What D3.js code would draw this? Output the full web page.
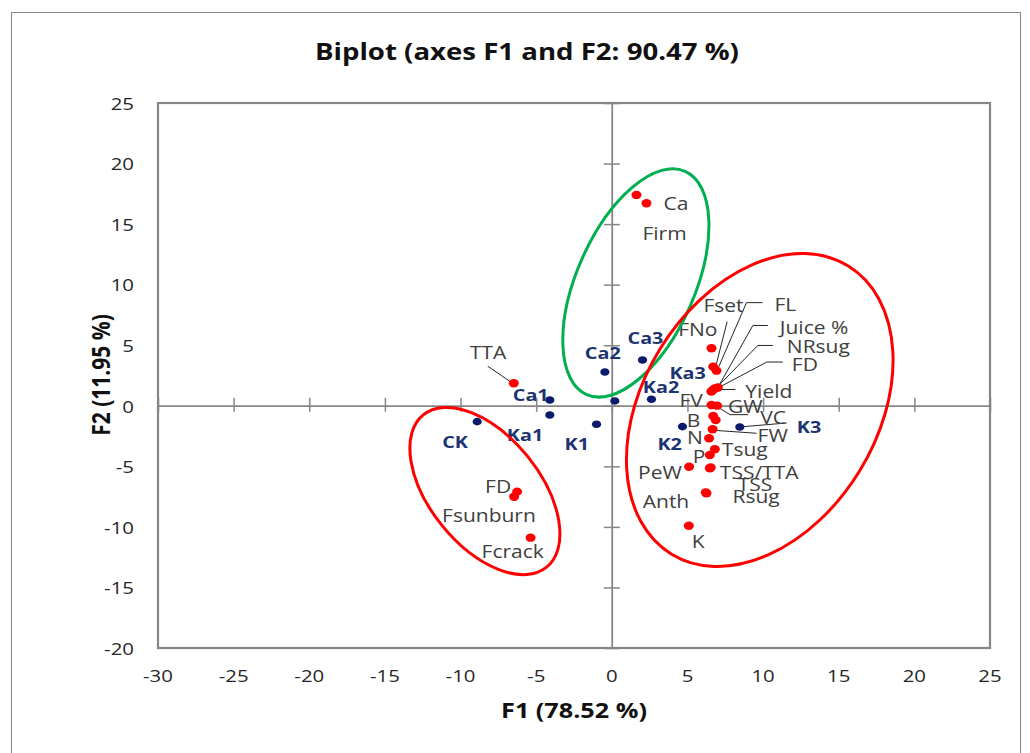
<!DOCTYPE html>
<html>
<head>
<meta charset="utf-8">
<title>Biplot</title>
<style>
  body { margin: 0; background: #fff; }
  text { font-family: "Open Sans", "Noto Sans", sans-serif; }
</style>
</head>
<body>
<svg width="1030" height="753"></svg>
<script src="https://cdnjs.cloudflare.com/ajax/libs/d3/7.8.5/d3.min.js"></script>
<script>

// variables (red) : F1 / F2 coordinates
varNames = ["Fset", "FNo", "FL", "Juice %", "NRsug", "FD", "Yield", "FV", "GW", "VC", "B", "FW", "N",
            "Tsug", "P", "PeW", "TSS/TTA", "TSS", "Rsug", "Anth", "K",
            "Ca", "Firm", "TTA", "FD", "Fsunburn", "Fcrack"]
varF1 = [6.59, 6.70, 6.92, 7.01, 6.81, 6.68, 6.58, 6.59, 6.96, 6.70, 6.87, 6.66, 6.43,
         6.81, 6.48, 5.11, 6.48, 6.54, 6.26, 6.21, 5.09,
         2.29, 1.63, -6.48, -6.26, -6.46, -5.37]
varF2 = [4.75, 3.23, 2.90, 1.51, 1.43, 1.30, 1.18, 0.07, 0.01, -0.84, -1.17, -1.94, -2.68,
         -3.59, -4.06, -5.03, -5.16, -5.09, -7.23, -7.16, -9.90,
         16.72, 17.41, 1.86, -7.09, -7.51, -10.89]

// observations (blue)
obsNames = ["CK", "Ca1", "Ca2", "Ca3", "K1", "K2", "K3", "Ka1", "Ka2", "Ka3"]
obsF1 = [-8.90, -4.10, -0.46, 2.03, -1.01, 4.67, 8.46, -4.10, 0.20, 2.62]
obsF2 = [-1.31, 0.48, 2.79, 3.78, -1.53, -1.72, -1.75, -0.76, 0.40, 0.54]

xTicks = d3.range(-30, 26, 5)
yTicks = d3.range(-20, 26, 5)

// label placement (pixel offsets from the point), same order as the names
varLabelOff = [[-8,-43],[-35,-37],[58,-66],[62,-60],[72,-42],[79,-26],[34,0],[-32,-5],[11,1],[47,1],[-29,0],[45,6],[-22,-1],
               [7,0],[-17,1],[-51,6],[10,4],[27,17],[26,3],[-63,9],[3,16],
               [17,0],[6,38],[-44,-31],[-32,-5],[-72,18],[-49,14]]
obsLabelOff = [[-35,20],[-37,-5],[-20,-19],[-15,-22],[-32,19],[-25,17],[57,0],[-43,20],[28,-14],[18,-27]]

// leader lines, by index into the arrays above
varLeaders = {
  1: [[14,-45],[3,-2]],
  2: [[46,-68],[30,-68],[1,-1]],
  3: [[50,-62],[35,-62],[0,0]],
  4: [[58,-43],[43,-43],[1,0]],
  5: [[70,-28],[54,-28],[1,0]],
  6: [[24,-2],[8,-2]],
  8: [[31,9],[13,9],[0,1]],
  11: [[44,4],[1,1]],
  23: [[-26,-17],[-4,-2]]
}
obsLeaders = { 6: [[47,-4],[0,0]] }

// hand drawn groupings
groups = [
  {cx: 1.59, cy: 10.14, rx: 59, ry: 122, rot: 23.8, color: "#00b050"},
  {cx: 9.78, cy: -0.35, rx: 117, ry: 169, rot: 31.6, color: "#ff0000"},
  {cx: -8.39, cy: -7.04, rx: 55, ry: 98, rot: -39, color: "#ff0000"}
]

SX = 1.2   // the chart is a bit wide, text stretched the same way
textgray = "#404040"
navy = "#0b1a6b"
navyText = "#1c3572"
gridgray = "#868686"

svg = d3.select("svg")
margin = {left: 158, right: 40, top: 103, bottom: 105}
W = 1030, H = 753

x = d3.scaleLinear().domain([-30, 25]).range([margin.left, W - margin.right])
y = d3.scaleLinear().domain([-20, 25]).range([H - margin.bottom, margin.top])

function put(sel, px, py) {
  return sel.attr("transform", `translate(${px},${py}) scale(${SX},1)`)
}

// chart border
svg.append("rect")
  .attr("x", 11.5).attr("y", 12.5).attr("width", 1009).attr("height", 780)
  .attr("fill", "none").attr("stroke", gridgray).attr("stroke-width", 1)

// plot frame
svg.append("rect")
  .attr("x", x(-30)).attr("y", y(25))
  .attr("width", x(25) - x(-30)).attr("height", y(-20) - y(25))
  .attr("fill", "none").attr("stroke", gridgray).attr("stroke-width", 2.2)

// zero lines with cross ticks
function styleAxis(g) {
  g.selectAll("path, line").attr("stroke", gridgray).attr("stroke-width", 1.5)
  g.selectAll("text").remove()
}
svg.append("g").attr("transform", `translate(0,${y(0)})`)
  .call(d3.axisBottom(x).tickValues(xTicks).tickSize(6).tickSizeOuter(0).tickFormat(""))
  .call(styleAxis)
svg.append("g").attr("transform", `translate(0,${y(0)})`)
  .call(d3.axisTop(x).tickValues(xTicks).tickSize(8).tickSizeOuter(0).tickFormat(""))
  .call(styleAxis)
svg.append("g").attr("transform", `translate(${x(0)},0)`)
  .call(d3.axisLeft(y).tickValues(yTicks).tickSize(8).tickSizeOuter(0).tickFormat(""))
  .call(styleAxis)
svg.append("g").attr("transform", `translate(${x(0)},0)`)
  .call(d3.axisRight(y).tickValues(yTicks).tickSize(8).tickSizeOuter(0).tickFormat(""))
  .call(styleAxis)

// tick labels on the frame
svg.append("g").selectAll("text")
  .data(xTicks).join("text")
    .call(s => s.each(function(d) { put(d3.select(this), x(d), 675) }))
    .attr("text-anchor", "middle").attr("dominant-baseline", "central")
    .attr("font-size", 17).attr("fill", "#262626")
    .text(d => d)
svg.append("g").selectAll("text")
  .data(yTicks).join("text")
    .call(s => s.each(function(d) { put(d3.select(this), 134, y(d)) }))
    .attr("text-anchor", "end").attr("dominant-baseline", "central")
    .attr("font-size", 17).attr("fill", "#262626")
    .text(d => d)

// titles
put(svg.append("text"), 527, 51)
  .attr("text-anchor", "middle").attr("dominant-baseline", "central")
  .attr("font-size", 23).attr("font-weight", "bold").attr("fill", "#111")
  .text("Biplot (axes F1 and F2: 90.47 %)")
put(svg.append("text"), 574, 710)
  .attr("text-anchor", "middle").attr("dominant-baseline", "central")
  .attr("font-size", 21).attr("font-weight", "bold").attr("fill", "#111")
  .text("F1 (78.52 %)")
svg.append("text")
  .attr("transform", `translate(100,375) rotate(-90) scale(1,${SX})`)
  .attr("text-anchor", "middle").attr("dominant-baseline", "central")
  .attr("font-size", 21).attr("font-weight", "bold").attr("fill", "#111")
  .text("F2 (11.95 %)")

vars = varNames.map((n, i) => ({name: n, f1: varF1[i], f2: varF2[i], off: varLabelOff[i], lead: varLeaders[i]}))
obs = obsNames.map((n, i) => ({name: n, f1: obsF1[i], f2: obsF2[i], off: obsLabelOff[i], lead: obsLeaders[i]}))

line = d3.line()

// leader lines
svg.append("g")
    .attr("fill", "none").attr("stroke", "#262626").attr("stroke-width", 1)
  .selectAll("path")
  .data(vars.concat(obs).filter(d => d.lead))
  .join("path")
    .attr("d", d => line(d.lead.map(([dx, dy]) => [x(d.f1) + dx, y(d.f2) + dy])))

// observation points + labels
svg.append("g").selectAll("ellipse")
  .data(obs).join("ellipse")
    .attr("cx", d => x(d.f1)).attr("cy", d => y(d.f2))
    .attr("rx", 4.6).attr("ry", 3.8).attr("fill", navy)
svg.append("g").selectAll("text")
  .data(obs).join("text")
    .each(function(d) { put(d3.select(this), x(d.f1) + d.off[0], y(d.f2) + d.off[1]) })
    .attr("dominant-baseline", "central")
    .attr("font-size", 16.5).attr("font-weight", "bold").attr("fill", navyText)
    .text(d => d.name)

// variable points + labels
svg.append("g").selectAll("ellipse")
  .data(vars).join("ellipse")
    .attr("cx", d => x(d.f1)).attr("cy", d => y(d.f2))
    .attr("rx", 5).attr("ry", 4.2).attr("fill", "#ff0000")
svg.append("g").selectAll("text")
  .data(vars).join("text")
    .each(function(d) { put(d3.select(this), x(d.f1) + d.off[0], y(d.f2) + d.off[1]) })
    .attr("dominant-baseline", "central")
    .attr("font-size", 17.5).attr("fill", textgray)
    .text(d => d.name)

// group ellipses
svg.append("g").selectAll("ellipse")
  .data(groups).join("ellipse")
    .attr("transform", d => `translate(${x(d.cx)},${y(d.cy)}) rotate(${d.rot})`)
    .attr("rx", d => d.rx).attr("ry", d => d.ry)
    .attr("fill", "none").attr("stroke", d => d.color).attr("stroke-width", 3)

</script>
</body>
</html>
